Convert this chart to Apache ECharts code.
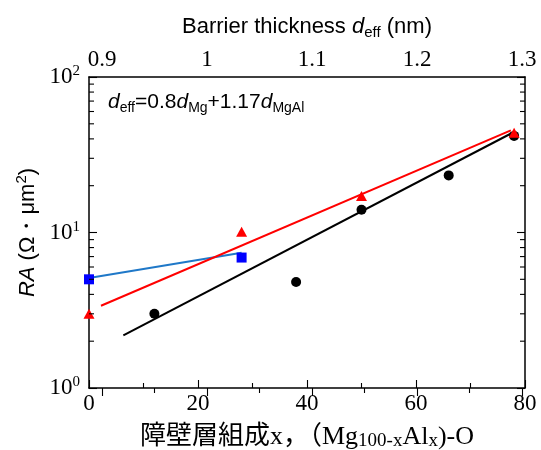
<!DOCTYPE html>
<html><head><meta charset="utf-8">
<script src="https://cdn.jsdelivr.net/npm/echarts@6/dist/echarts.min.js"></script>
<style>html,body{margin:0;padding:0;background:#fff}#c{width:541px;height:450px}</style>
</head><body><div id="c"></div>
<script>
// ---- data ----
const xTicks = [0, 20, 40, 60, 80];
const topTicks = [0.9, 1.0, 1.1, 1.2, 1.3];
const yTicks = [1, 10, 100];
const yMinorTicks = [2, 3, 4, 5, 6, 7, 8, 9, 20, 30, 40, 50, 60, 70, 80, 90];

const blackX = [12, 38, 50, 66, 78];
const blackY = [3.0, 4.8, 14.0, 23.3, 41.8];
const redX = [0, 28, 50, 78];
const redY = [3.0, 10.1, 17.2, 43.8];
const blueX = [0, 28];
const blueY = [5.0, 6.9];
const blueLineX = [0, 28];
const blueLineY = [5.1, 7.4];
const redFitX = [2.2, 77.4];
const redFitY = [3.38, 45.4];
const blackFitX = [6.3, 77.7];
const blackFitY = [2.18, 43.8];

// ---- style ----
const SANS = "'Liberation Sans', Arial, sans-serif";
const SERIF = "'Liberation Serif', 'Times New Roman', 'Noto Sans CJK JP', serif";
const BLK = '#000';
const pair = (xs, ys) => xs.map((x, i) => [x, ys[i]]);

const chart = echarts.init(document.getElementById('c'), null, {renderer: 'canvas'});

const tickLine = {color: BLK, width: 1.1};
const axisLine = {show: true, onZero: false, lineStyle: {color: BLK, width: 1.5}};
const xMin = xTicks[0], xMax = xTicks[xTicks.length - 1];

const option = {
  backgroundColor: '#fff',
  animation: false,
  title: {
    text: '{i|d}{sub|eff}{n|=0.8}{i|d}{sub|Mg}{n|+1.17}{i|d}{sub|MgAl}',
    left: 103, top: 85,
    textStyle: {
      fontWeight: 'normal',
      rich: {
        n: {fontFamily: SANS, fontSize: 21, fontWeight: 'normal', color: BLK, lineHeight: 25},
        i: {fontFamily: SANS, fontSize: 21, fontWeight: 'normal', fontStyle: 'italic', color: BLK, lineHeight: 25},
        sub: {fontFamily: SANS, fontSize: 14, fontWeight: 'normal', color: BLK, verticalAlign: 'bottom', lineHeight: 15}
      }
    }
  },
  grid: [
    {left: 89, right: 16, top: 77, bottom: 62, containLabel: false, outerBoundsMode: 'none'},
    {left: 102, right: 19, top: 77, bottom: 62, containLabel: false, outerBoundsMode: 'none'}
  ],
  xAxis: [
    {
      gridIndex: 0, type: 'value', position: 'bottom', min: xMin, max: xMax, interval: 20,
      axisLine: axisLine,
      axisTick: {show: true, inside: true, length: 8, lineStyle: tickLine},
      minorTick: {show: true, splitNumber: 2, length: 5, lineStyle: tickLine},
      splitLine: {show: false}, minorSplitLine: {show: false},
      axisLabel: {color: BLK, fontFamily: SERIF, fontSize: 23, margin: 4},
      name: '{n|障壁層組成x，（Mg}{sub|100-x}{n|Al}{sub|x}{n|)-O}',
      nameLocation: 'middle', nameGap: 35,
      nameTextStyle: {
        rich: {
          n: {fontFamily: SERIF, fontSize: 26, color: BLK, lineHeight: 28},
          sub: {fontFamily: SERIF, fontSize: 19, color: BLK, verticalAlign: 'bottom', lineHeight: 22}
        }
      }
    },
    {
      gridIndex: 0, type: 'value', position: 'top', min: xMin, max: xMax,
      axisLine: axisLine,
      axisTick: {show: false}, axisLabel: {show: false}, splitLine: {show: false},
      name: '{n|Barrier thickness }{i|d}{sub|eff}{n| (nm)}',
      nameLocation: 'middle', nameGap: 37,
      nameTextStyle: {
        rich: {
          n: {fontFamily: SANS, fontSize: 22, color: BLK, lineHeight: 26},
          i: {fontFamily: SANS, fontSize: 22, fontStyle: 'italic', color: BLK, lineHeight: 26},
          sub: {fontFamily: SANS, fontSize: 15, color: BLK, verticalAlign: 'bottom', lineHeight: 18}
        }
      }
    },
    {
      gridIndex: 1, type: 'value', position: 'top',
      min: topTicks[0], max: topTicks[topTicks.length - 1], interval: 0.1,
      axisLine: {show: false},
      axisTick: {show: true, inside: true, length: 8, lineStyle: tickLine},
      minorTick: {show: true, splitNumber: 2, length: 5, lineStyle: tickLine},
      splitLine: {show: false}, minorSplitLine: {show: false},
      axisLabel: {color: BLK, fontFamily: SERIF, fontSize: 23, margin: 6,
        formatter: v => String(+v.toFixed(2))}
    }
  ],
  yAxis: [
    {
      gridIndex: 0, type: 'log', logBase: 10, position: 'left', min: yTicks[0], max: yTicks[yTicks.length - 1],
      axisLine: axisLine,
      axisTick: {show: true, inside: true, length: 8, lineStyle: tickLine},
      splitLine: {show: false},
      axisLabel: {
        margin: 9,
        formatter: v => '{n|10}{sup|' + Math.round(Math.log10(v)) + '}',
        rich: {
          n: {fontFamily: SERIF, fontSize: 23, color: BLK, lineHeight: 26},
          sup: {fontFamily: SERIF, fontSize: 15, color: BLK, verticalAlign: 'top', lineHeight: 16}
        }
      },
      name: '{i|RA}{n| (Ω・μm}{sup|2}{n|)}',
      nameLocation: 'middle', nameGap: 48, nameRotate: 90,
      nameTextStyle: {
        rich: {
          n: {fontFamily: SANS, fontSize: 22, color: BLK, lineHeight: 26},
          i: {fontFamily: SANS, fontSize: 22, fontStyle: 'italic', color: BLK, lineHeight: 26},
          sup: {fontFamily: SANS, fontSize: 15, color: BLK, verticalAlign: 'top', lineHeight: 16}
        }
      }
    },
    {
      gridIndex: 0, type: 'log', logBase: 10, position: 'right', min: yTicks[0], max: yTicks[yTicks.length - 1],
      axisLine: axisLine,
      axisTick: {show: true, inside: true, length: 8, lineStyle: tickLine},
      splitLine: {show: false},
      axisLabel: {show: false}
    },
    {
      gridIndex: 1, type: 'value', min: 0, max: 1, show: false
    }
  ],
  series: [
    {type: 'line', data: pair(blueLineX, blueLineY), symbol: 'none',
      lineStyle: {color: '#1f78c8', width: 2}, xAxisIndex: 0, yAxisIndex: 0, z: 2},
    {type: 'line', data: pair(redFitX, redFitY), symbol: 'none',
      lineStyle: {color: '#ff0000', width: 2}, xAxisIndex: 0, yAxisIndex: 0, z: 2},
    {type: 'line', data: pair(blackFitX, blackFitY), symbol: 'none',
      lineStyle: {color: '#000', width: 2}, xAxisIndex: 0, yAxisIndex: 0, z: 2},
    {type: 'scatter', data: pair(blackX, blackY), symbol: 'circle', symbolSize: 10,
      itemStyle: {color: '#000', opacity: 1}, clip: false, xAxisIndex: 0, yAxisIndex: 0, z: 3},
    {type: 'scatter', data: pair(redX, redY), symbol: 'triangle', symbolSize: [11, 10],
      itemStyle: {color: '#ff0000', opacity: 1}, clip: false, xAxisIndex: 0, yAxisIndex: 0, z: 3},
    {type: 'scatter', data: pair(blueX, blueY), symbol: 'rect', symbolSize: 10,
      itemStyle: {color: '#0000ff', opacity: 1}, clip: false, xAxisIndex: 0, yAxisIndex: 0, z: 3},
    // minor log ticks on left and right frame
    {type: 'custom', xAxisIndex: 0, yAxisIndex: 0, silent: true, clip: false, z: 4,
      data: yMinorTicks.map(v => [xMin, v]),
      renderItem: (params, api) => {
        const v = api.value(1);
        const pL = api.coord([xMin, v]);
        const pR = api.coord([xMax, v]);
        const st = {stroke: BLK, lineWidth: 1.1};
        return {type: 'group', children: [
          {type: 'line', shape: {x1: pL[0], y1: pL[1], x2: pL[0] + 5, y2: pL[1]}, style: st},
          {type: 'line', shape: {x1: pR[0] - 5, y1: pR[1], x2: pR[0], y2: pR[1]}, style: st}
        ]};
      }
    }
  ]
};
chart.setOption(option);
</script>
</body></html>
